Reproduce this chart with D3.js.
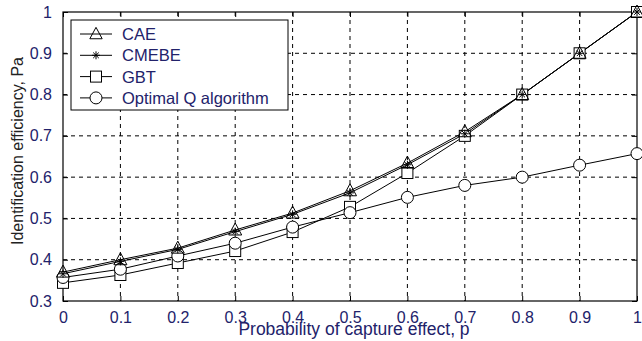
<!DOCTYPE html>
<html>
<head>
<meta charset="utf-8">
<script src="https://cdn.jsdelivr.net/npm/d3@7"></script>
<style>
  body { margin: 0; background: #fff; }
  svg { font-family: "Liberation Sans", Arial, sans-serif; }
  .grid line { stroke: #000; stroke-dasharray: 4,4; stroke-width: 1; }
  .tick text { fill: #22226a; font-size: 16px; }
</style>
</head>
<body>
<script>
// data
const probs = [0, 0.1, 0.2, 0.3, 0.4, 0.5, 0.6, 0.7, 0.8, 0.9, 1];
const cae = [0.37, 0.40, 0.428, 0.472, 0.513, 0.567, 0.634, 0.71, 0.80, 0.90, 1.0];
const cmebe = [0.366, 0.396, 0.425, 0.468, 0.51, 0.562, 0.63, 0.705, 0.80, 0.90, 1.0];
const gbt = [0.344, 0.363, 0.392, 0.421, 0.467, 0.528, 0.61, 0.70, 0.80, 0.90, 1.0];
const optq = [0.357, 0.377, 0.409, 0.44, 0.479, 0.514, 0.551, 0.58, 0.60, 0.629, 0.657];
const xTicks = [0, 0.1, 0.2, 0.3, 0.4, 0.5, 0.6, 0.7, 0.8, 0.9, 1];
const yTicks = [0.3, 0.4, 0.5, 0.6, 0.7, 0.8, 0.9, 1];
const seriesNames = ["CAE", "CMEBE", "GBT", "Optimal Q algorithm"];

const width = 642, height = 341;
const pl = 63, pr = 637, pt = 12, pb = 301;

let svg = d3.select("body").append("svg")
    .attr("width", width)
    .attr("height", height);

const x = d3.scaleLinear().domain([0, 1]).range([pl, pr]);
const y = d3.scaleLinear().domain([0.3, 1]).range([pb, pt]);

// dashed grid
let grid = svg.append("g").attr("class", "grid");
xTicks.slice(1, -1).forEach((t) => {
    grid.append("line")
        .attr("x1", x(t)).attr("x2", x(t))
        .attr("y1", pt).attr("y2", pb);
});
yTicks.slice(1, -1).forEach((t) => {
    grid.append("line")
        .attr("x1", pl).attr("x2", pr)
        .attr("y1", y(t)).attr("y2", y(t));
});

// axes
const fmt = (d) => d3.format("~g")(d);
let xAxis = svg.append("g")
    .attr("transform", `translate(0,${pb})`)
    .call(d3.axisBottom(x).tickValues(xTicks).tickFormat(fmt).tickSize(-5).tickPadding(11));
let xAxisTop = svg.append("g")
    .attr("transform", `translate(0,${pt})`)
    .call(d3.axisTop(x).tickValues(xTicks).tickFormat("").tickSize(-5));
let yAxis = svg.append("g")
    .attr("transform", `translate(${pl},0)`)
    .call(d3.axisLeft(y).tickValues(yTicks).tickFormat(fmt).tickSize(-5).tickPadding(11));
let yAxisRight = svg.append("g")
    .attr("transform", `translate(${pr},0)`)
    .call(d3.axisRight(y).tickValues(yTicks).tickFormat("").tickSize(-5));
[xAxis, xAxisTop, yAxis, yAxisRight].forEach((a) => {
    a.select(".domain").remove();
    a.selectAll(".tick line").attr("stroke", "#000");
});

svg.append("rect")
    .attr("x", pl).attr("y", pt)
    .attr("width", pr - pl).attr("height", pb - pt)
    .attr("fill", "none").attr("stroke", "#000").attr("stroke-width", 1.2);

// markers
function marker(g, kind, cx, cy, k) {
    k = k || 1;
    if (kind === "tri") {
        g.append("path")
            .attr("d", `M${cx},${cy - 7 * k}L${cx + 6.5 * k},${cy + 5 * k}L${cx - 6.5 * k},${cy + 5 * k}Z`)
            .attr("fill", "none").attr("stroke", "#000");
    } else if (kind === "star") {
        const r = 4;
        [[r, 0], [0, r], [r * 0.7, r * 0.7], [r * 0.7, -r * 0.7]].forEach(([dx, dy]) => {
            g.append("line")
                .attr("x1", cx - dx).attr("y1", cy - dy)
                .attr("x2", cx + dx).attr("y2", cy + dy)
                .attr("stroke", "#000").attr("stroke-width", 1);
        });
    } else if (kind === "sq") {
        g.append("rect")
            .attr("x", cx - 5.5).attr("y", cy - 5.5)
            .attr("width", 11).attr("height", 11)
            .attr("fill", "#fff").attr("stroke", "#000");
    } else {
        g.append("circle")
            .attr("cx", cx).attr("cy", cy).attr("r", 6)
            .attr("fill", "#fff").attr("stroke", "#000");
    }
}

const series = [
    { name: seriesNames[0], vals: cae, kind: "tri" },
    { name: seriesNames[1], vals: cmebe, kind: "star" },
    { name: seriesNames[2], vals: gbt, kind: "sq" },
    { name: seriesNames[3], vals: optq, kind: "circ" }
];
const line = d3.line().x((d, i) => x(probs[i])).y((d) => y(d));

let plot = svg.append("g");
series.forEach((s) => {
    plot.append("path")
        .attr("d", line(s.vals))
        .attr("fill", "none").attr("stroke", "#000").attr("stroke-width", 1);
});
// squares and circles first, then triangles and stars on top
[series[2], series[3], series[0], series[1]].forEach((s) => {
    let g = plot.append("g");
    s.vals.forEach((v, i) => marker(g, s.kind, x(probs[i]), y(v)));
});

// legend
let legend = svg.append("g");
legend.append("rect")
    .attr("x", 71).attr("y", 20)
    .attr("width", 217).attr("height", 90)
    .attr("fill", "#fff").attr("stroke", "#000");
series.forEach((s, i) => {
    const ly = 34 + i * 21.3;
    legend.append("line")
        .attr("x1", 80).attr("x2", 112)
        .attr("y1", ly).attr("y2", ly)
        .attr("stroke", "#000");
    marker(legend, s.kind, 96, ly, 0.95);
    legend.append("text")
        .attr("x", 122).attr("y", ly)
        .attr("dy", "0.36em")
        .attr("font-size", 16.5)
        .attr("fill", "#22226a")
        .text(s.name);
});

// axis titles
svg.append("text")
    .attr("x", 354).attr("y", 335)
    .attr("text-anchor", "middle")
    .attr("font-size", 17.5)
    .attr("fill", "#22226a")
    .text("Probability of capture effect, p");
svg.append("text")
    .attr("transform", `translate(23,151) rotate(-90)`)
    .attr("text-anchor", "middle")
    .attr("font-size", 16)
    .attr("fill", "#222")
    .text("Identification efficiency, Pa");
</script>
</body>
</html>
